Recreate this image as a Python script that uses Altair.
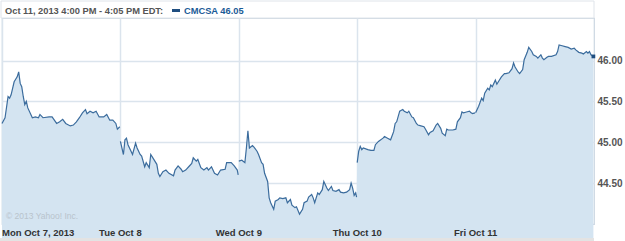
import altair as alt
import pandas as pd

# ---- data (minutes after 9:30 open, price) ----
DAY_LABELS = ["Mon Oct 7, 2013", "Tue Oct 8", "Wed Oct 9", "Thu Oct 10", "Fri Oct 11"]

mon_t = [0, 10, 20, 25, 30, 40, 50, 55, 60, 65, 70, 75, 80, 85, 100, 110, 120, 125, 135, 155, 165,
         180, 190, 200, 210, 225, 235, 245, 255, 265, 275, 280, 290, 300, 310, 320, 335, 345, 355,
         365, 375, 380, 388]
mon_p = [45.23, 45.30, 45.56, 45.54, 45.58, 45.74, 45.80, 45.86, 45.72, 45.68, 45.56, 45.46, 45.50,
         45.42, 45.30, 45.31, 45.30, 45.34, 45.30, 45.31, 45.31, 45.23, 45.25, 45.28, 45.23, 45.20,
         45.21, 45.25, 45.30, 45.36, 45.40, 45.35, 45.38, 45.36, 45.38, 45.31, 45.31, 45.34, 45.27,
         45.27, 45.23, 45.16, 45.19]

tue_t = [0, 10, 15, 20, 25, 35, 40, 50, 55, 65, 70, 80, 85, 95, 100, 110, 120, 125, 130, 140, 150,
         160, 175, 180, 190, 200, 205, 215, 225, 235, 240, 250, 255, 265, 275, 285, 290, 300, 310,
         320, 330, 345, 350, 365, 375, 385, 388]
tue_p = [45.01, 44.85, 45.03, 45.05, 44.97, 44.89, 44.85, 44.99, 44.93, 44.85, 44.83, 44.70, 44.75,
         44.69, 44.85, 44.79, 44.73, 44.62, 44.58, 44.64, 44.66, 44.62, 44.59, 44.66, 44.71, 44.67,
         44.64, 44.66, 44.70, 44.74, 44.81, 44.77, 44.79, 44.69, 44.66, 44.69, 44.66, 44.70, 44.62,
         44.60, 44.66, 44.67, 44.75, 44.75, 44.71, 44.66, 44.60]

wed_t = [0, 10, 20, 25, 30, 35, 45, 50, 60, 65, 75, 80, 85, 95, 100, 105, 115, 120, 130, 135, 145,
         155, 160, 170, 175, 185, 190, 200, 210, 215, 225, 230, 240, 245, 250, 260, 265, 275, 280,
         290, 295, 305, 310, 320, 330, 335, 345, 355, 365, 370, 375, 380, 385, 388]
wed_p = [44.77, 44.78, 44.75, 44.93, 45.14, 44.93, 44.96, 44.94, 44.89, 44.85, 44.75, 44.73, 44.62,
         44.52, 44.32, 44.26, 44.18, 44.28, 44.30, 44.32, 44.31, 44.32, 44.26, 44.30, 44.23, 44.20,
         44.21, 44.12, 44.18, 44.26, 44.28, 44.33, 44.36, 44.32, 44.26, 44.38, 44.36, 44.42, 44.52,
         44.44, 44.41, 44.46, 44.41, 44.40, 44.42, 44.39, 44.38, 44.39, 44.42, 44.50, 44.44, 44.35,
         44.38, 44.33]

thu_t = [0, 5, 10, 15, 20, 35, 45, 55, 60, 70, 85, 90, 100, 110, 120, 125, 130, 140, 150, 155, 165,
         170, 180, 185, 195, 200, 210, 220, 225, 235, 240, 250, 260, 265, 275, 280, 290, 295, 300,
         315, 325, 330, 340, 345, 350, 360, 370, 375, 380, 388]
thu_p = [44.75, 44.89, 44.95, 44.91, 44.93, 44.91, 44.90, 44.90, 44.97, 45.01, 45.05, 45.07, 45.05,
         45.03, 45.13, 45.23, 45.25, 45.38, 45.40, 45.38, 45.36, 45.38, 45.31, 45.30, 45.23, 45.21,
         45.20, 45.19, 45.16, 45.09, 45.12, 45.14, 45.21, 45.23, 45.17, 45.11, 45.08, 45.16, 45.15,
         45.15, 45.16, 45.25, 45.30, 45.37, 45.36, 45.37, 45.38, 45.36, 45.35, 45.36]

fri_t = [0, 10, 20, 25, 30, 40, 45, 50, 55, 65, 70, 75, 85, 95, 100, 110, 120, 125, 130, 140, 145,
         155, 160, 170, 175, 185, 190, 200, 205, 215, 220, 225, 235, 240, 250, 265, 270, 275, 285,
         295, 305, 315, 325, 330, 340, 350, 355, 365, 370, 375, 380, 388]
fri_p = [45.36, 45.44, 45.54, 45.51, 45.60, 45.66, 45.64, 45.70, 45.68, 45.76, 45.71, 45.74, 45.80,
         45.84, 45.84, 45.85, 45.90, 45.97, 45.92, 45.86, 45.84, 45.89, 46.01, 46.10, 46.16, 46.11,
         46.07, 46.05, 46.03, 46.07, 46.03, 46.01, 46.04, 46.05, 46.05, 46.07, 46.11, 46.19, 46.18,
         46.17, 46.16, 46.14, 46.15, 46.13, 46.10, 46.09, 46.08, 46.11, 46.09, 46.11, 46.07, 46.05]

HEADER_TEXT = "Oct 11, 2013 4:00 PM - 4:05 PM EDT:"
LEGEND_TEXT = "CMCSA 46.05"
WATERMARK = "\u00a9 2013 Yahoo! Inc."
Y_TICKS = [44.5, 45.0, 45.5, 46.0]
X_TICKS = [0, 1, 2, 3, 4]
SESSION_MIN = 390

rows = []
for d, (ts, ps) in enumerate([(mon_t, mon_p), (tue_t, tue_p), (wed_t, wed_p),
                              (thu_t, thu_p), (fri_t, fri_p)]):
    for t, p in zip(ts, ps):
        rows.append({"day": d, "t": d + t / SESSION_MIN, "price": p})
df = pd.DataFrame(rows)
last = df.tail(1)
lab_df = pd.DataFrame({"t": X_TICKS, "label": DAY_LABELS})

W, H = 592, 206
FONT = "Liberation Sans"
LINE_C = "#3b6c9d"
FILL_C = "#d4e4f1"
GRID_C = "#dbe4ed"

xscale = alt.Scale(domain=[0, 5], nice=False, zero=False)
yscale = alt.Scale(domain=[44.0, 46.52], nice=False, zero=False)

xenc = alt.X("t:Q", scale=xscale, title=None,
             axis=alt.Axis(values=X_TICKS, labels=False, ticks=False, domain=False,
                           grid=True, gridColor=GRID_C, gridWidth=1.5))
yenc = alt.Y("price:Q", scale=yscale, title=None,
             axis=alt.Axis(orient="right", values=Y_TICKS, format=".2f", ticks=False, domain=False,
                           grid=True, gridColor=GRID_C, gridWidth=1.5,
                           labelFont=FONT, labelFontSize=10, labelFontWeight="bold",
                           labelColor="#555555", labelPadding=3))

base = alt.Chart(df)
area = base.mark_area(color=FILL_C, opacity=1).encode(x=xenc, y=yenc)
line = base.mark_line(color=LINE_C, strokeWidth=1.2).encode(x="t:Q", y="price:Q", detail="day:N")
endpt = alt.Chart(last).mark_point(shape="square", filled=True, size=14, color="#1f4e80",
                                    opacity=1).encode(x="t:Q", y="price:Q")

# day labels below the plot, drawn as text on the x scale
day_labels = alt.Chart(lab_df).mark_text(baseline="alphabetic", font=FONT, fontSize=9.5,
                                         fontWeight="bold", color="#333333",
                                         align=alt.ExprRef("datum.t == 0 ? 'left' : 'center'")).encode(
    x="t:Q", y=alt.value(H + 12), text="label:N")

hdr_df = pd.DataFrame({"h": [HEADER_TEXT], "l": [LEGEND_TEXT], "w": [WATERMARK]})
hdr_box = alt.Chart(hdr_df).mark_rect(fill="white", stroke="#dfe4ea", strokeWidth=1).encode(
    x=alt.value(-1), x2=alt.value(W), y=alt.value(-17), y2=alt.value(0))
hdr_text = alt.Chart(hdr_df).mark_text(align="left", baseline="alphabetic", font=FONT,
                                       fontSize=9.3, fontWeight="bold", color="#555555").encode(
    x=alt.value(3), y=alt.value(-4), text="h:N")
swatch = alt.Chart(hdr_df).mark_rect(color="#1f4e80").encode(
    x=alt.value(170), x2=alt.value(178), y=alt.value(-9), y2=alt.value(-6))
leg_text = alt.Chart(hdr_df).mark_text(align="left", baseline="alphabetic", font=FONT,
                                       fontSize=9.3, fontWeight="bold", color="#1b5b97").encode(
    x=alt.value(182), y=alt.value(-4), text="l:N")
wm = alt.Chart(hdr_df).mark_text(align="left", baseline="alphabetic", font=FONT,
                                 fontSize=8.5, color="#b8c3cc").encode(
    x=alt.value(4), y=alt.value(H - 5), text="w:N")
bottom_band = alt.Chart(hdr_df).mark_rect(color="#e3e3e3").encode(
    x=alt.value(-2), x2=alt.value(W), y=alt.value(H + 14), y2=alt.value(H + 17))

chart = alt.layer(area, line, endpt, wm, day_labels, hdr_box, hdr_text, swatch, leg_text,
                  bottom_band).properties(
    width=W, height=H,
    padding={"left": 2, "top": 18, "right": 31, "bottom": 17},
    autosize="none",
    background="white",
).configure_view(stroke="#cbd6e1", strokeWidth=1.2)

chart.save("out.html", embed_options={"renderer": "svg", "actions": False})
